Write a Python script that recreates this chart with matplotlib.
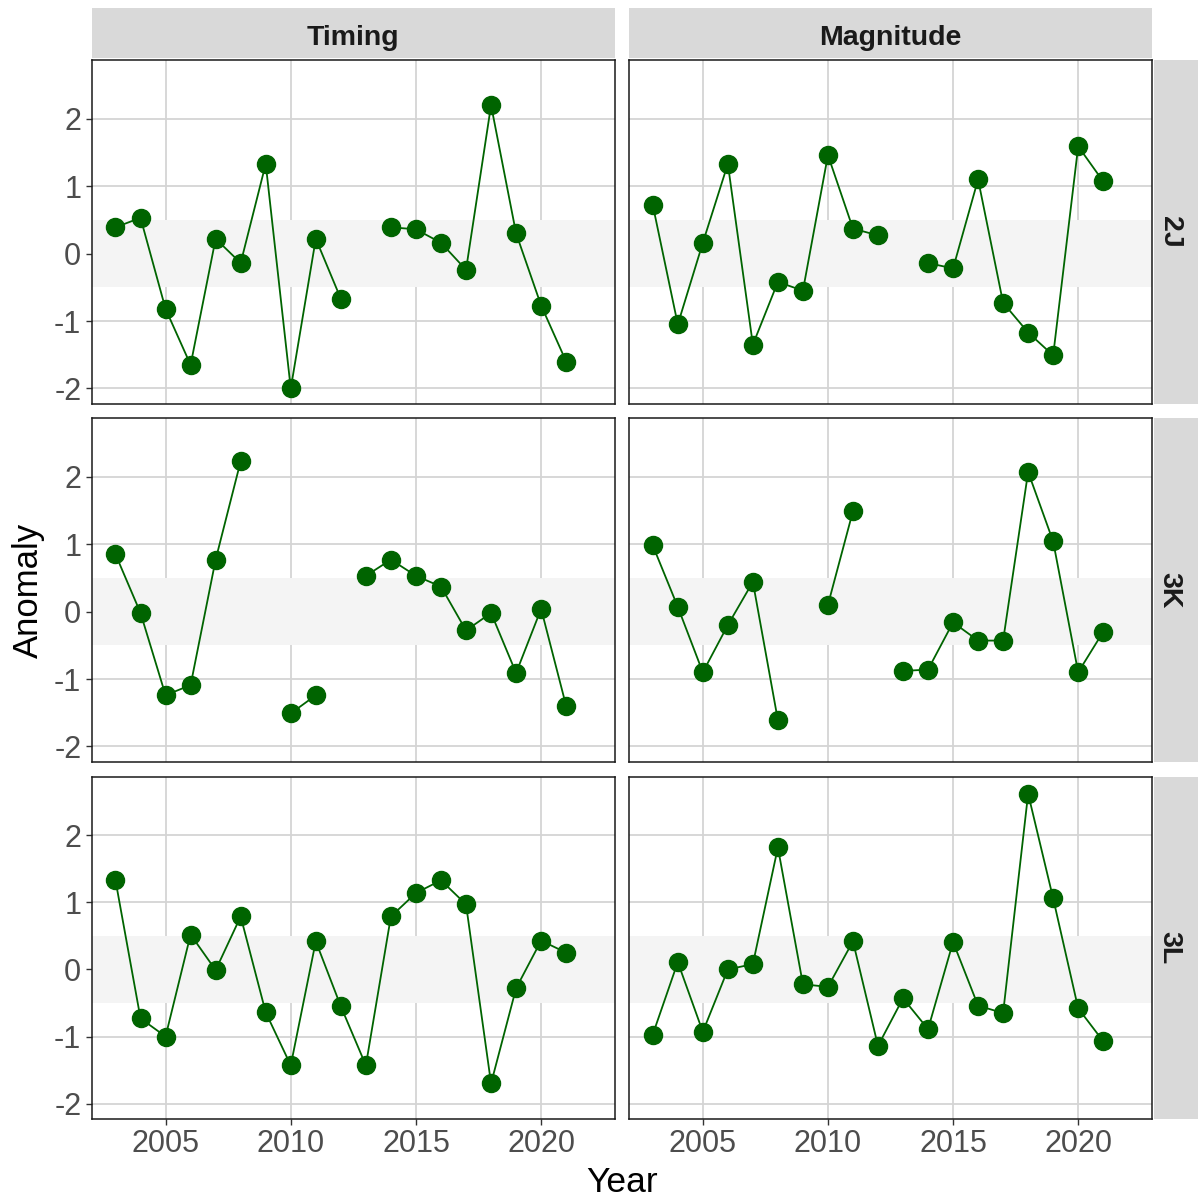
import numpy as np
import matplotlib
matplotlib.use("Agg")
import matplotlib.pyplot as plt

plt.rcParams["font.family"] = ["Liberation Sans", "DejaVu Sans"]
plt.rcParams["axes.unicode_minus"] = False

nan = np.nan
years = np.arange(2003, 2022)
columns = ["Timing", "Magnitude"]
regions = ["2J", "3K", "3L"]

# anomaly series per region, 2003-2021 (nan = no survey)
timing_2J = [0.39, 0.53, -0.82, -1.65, 0.22, -0.14, 1.33, -2.00, 0.22, -0.67,
             nan, 0.39, 0.36, 0.16, -0.24, 2.20, 0.30, -0.77, -1.60]
magnitude_2J = [0.72, -1.05, 0.16, 1.33, -1.35, -0.42, -0.55, 1.46, 0.37, 0.27,
                nan, -0.14, -0.22, 1.10, -0.73, -1.17, -1.51, 1.59, 1.07]
timing_3K = [0.85, -0.02, -1.24, -1.09, 0.77, 2.23, nan, -1.51, -1.24, nan,
             0.53, 0.77, 0.53, 0.37, -0.28, -0.02, -0.91, 0.04, -1.40]
magnitude_3K = [0.98, 0.07, -0.90, -0.20, 0.44, -1.61, nan, 0.10, 1.49, nan,
                -0.88, -0.86, -0.16, -0.43, -0.43, 2.07, 1.04, -0.90, -0.30]
timing_3L = [1.33, -0.73, -1.00, 0.52, -0.01, 0.79, -0.64, -1.43, 0.42, -0.55,
             -1.43, 0.79, 1.14, 1.33, 0.97, -1.70, -0.28, 0.43, 0.25]
magnitude_3L = [-0.97, 0.11, -0.93, 0.00, 0.08, 1.82, -0.22, -0.26, 0.42, -1.14,
                -0.43, -0.89, 0.41, -0.54, -0.65, 2.62, 1.06, -0.58, -1.07]

series = {
    ("2J", "Timing"): timing_2J, ("2J", "Magnitude"): magnitude_2J,
    ("3K", "Timing"): timing_3K, ("3K", "Magnitude"): magnitude_3K,
    ("3L", "Timing"): timing_3L, ("3L", "Magnitude"): magnitude_3L,
}

x_ticks = [2005, 2010, 2015, 2020]
y_ticks = [-2, -1, 0, 1, 2]

W, H = 1198, 1201
fig = plt.figure(figsize=(W / 100, H / 100), dpi=100)

col_px = [(91.7, 615), (629, 1152)]
row_px = [(60, 404), (418, 762), (777, 1119)]
strip_top = (8, 58)
strip_right = (1154, 1198)


def px_axes(x0, y0, x1, y1):
    return fig.add_axes([x0 / W, 1 - y1 / H, (x1 - x0) / W, (y1 - y0) / H])


def strip(x0, y0, x1, y1, label, rotation=0):
    s = px_axes(x0, y0, x1, y1)
    s.set_facecolor("#D9D9D9")
    s.set_xticks([])
    s.set_yticks([])
    for sp in s.spines.values():
        sp.set_visible(False)
    if rotation:
        pos = (0.36, 0.5)
    else:
        pos = (0.5, 0.4)
    s.text(*pos, label, transform=s.transAxes, ha="center", va="center",
           rotation=rotation, fontsize=20.5, fontweight="bold", color="#1A1A1A")


green = "#006400"
for r, reg in enumerate(regions):
    for c, col in enumerate(columns):
        x0, x1 = col_px[c]
        y0, y1 = row_px[r]
        ax = px_axes(x0, y0, x1, y1)
        ax.set_axisbelow(True)
        ax.grid(True, color="#D4D4D4", lw=1.3)
        ax.axhspan(-0.5, 0.5, color="#F4F4F4", zorder=0.8, lw=0)
        ax.plot(years, series[(reg, col)], color=green, lw=1.3, zorder=2)
        ax.plot(years, series[(reg, col)], "o", color=green, ms=13,
                mec=green, zorder=3)
        ax.set_xlim(2002.05, 2022.95)
        ax.set_ylim(-2.23, 2.87)
        ax.set_xticks(x_ticks)
        ax.set_yticks(y_ticks)
        for sp in ax.spines.values():
            sp.set_color("#1A1A1A")
            sp.set_linewidth(1.1)
        ax.tick_params(length=4.5, width=1, color="#333333", labelsize=22,
                       labelcolor="#4D4D4D", pad=3)
        if c != 0:
            ax.tick_params(axis="y", length=0, labelleft=False)
        if r != len(regions) - 1:
            ax.tick_params(axis="x", length=0, labelbottom=False)
        if r == 0:
            strip(x0, strip_top[0], x1, strip_top[1], col)
        if c == len(columns) - 1:
            strip(strip_right[0], y0, strip_right[1], y1, reg, rotation=-90)

fig.text(28 / W, 1 - 590 / H, "Anomaly", rotation=90, ha="center",
         va="center", fontsize=25)
fig.text(622 / W, 1 - 1183 / H, "Year", ha="center", va="center", fontsize=25.5)

fig.savefig("out.png", dpi=100)
